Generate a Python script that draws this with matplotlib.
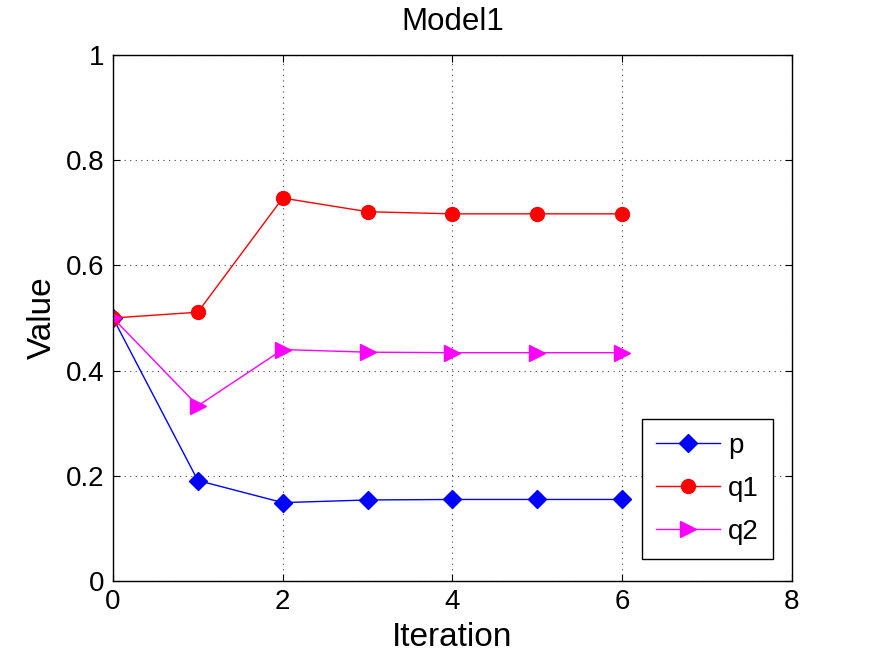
import matplotlib
matplotlib.use("Agg")
import matplotlib.pyplot as plt

plt.rcParams['font.family'] = ['Liberation Sans', 'DejaVu Sans']

# data
iterations = [0, 1, 2, 3, 4, 5, 6]
p_vals = [0.5, 0.191, 0.149, 0.154, 0.155, 0.155, 0.155]
q1_vals = [0.5, 0.511, 0.728, 0.702, 0.698, 0.698, 0.698]
q2_vals = [0.5, 0.333, 0.440, 0.435, 0.434, 0.434, 0.434]

fig = plt.figure(figsize=(8.73, 6.57), dpi=100)
ax = fig.add_axes([0.1294, 0.1157, 0.7778, 0.8006])

ax.plot(iterations, p_vals, color='blue', marker='D', markersize=9, lw=1, label='p')
ax.plot(iterations, q1_vals, color='red', marker='o', markersize=10, lw=1, label='q1')
ax.plot(iterations, q2_vals, color='magenta', marker='>', markersize=11, lw=1, label='q2')

ax.set_xlim(0, 8)
ax.set_ylim(0, 1)
ax.set_xticks([0, 2, 4, 6, 8])
ax.set_yticks([0, 0.2, 0.4, 0.6, 0.8, 1])
ax.set_yticklabels(['0', '0.2', '0.4', '0.6', '0.8', '1'])
ax.grid(True, linestyle=(0, (1, 4)), color='#444444', lw=0.8)
ax.tick_params(direction='in', top=True, right=True, labelsize=20, length=5, pad=6)
for s in ax.spines.values():
    s.set_linewidth(1)

ax.set_xlabel('Iteration', fontsize=24, labelpad=5)
ax.set_ylabel('Value', fontsize=24, labelpad=6)
ax.set_title('Model1', fontsize=22.5, pad=18)

leg = ax.legend(loc='lower right', bbox_to_anchor=(0.972, 0.042), fontsize=20,
                fancybox=False, edgecolor='black', framealpha=1,
                handlelength=2.3, handletextpad=0.3, borderpad=0.5,
                labelspacing=0.62, borderaxespad=0)
leg.get_frame().set_linewidth(1)

fig.savefig('out.png', dpi=100)
